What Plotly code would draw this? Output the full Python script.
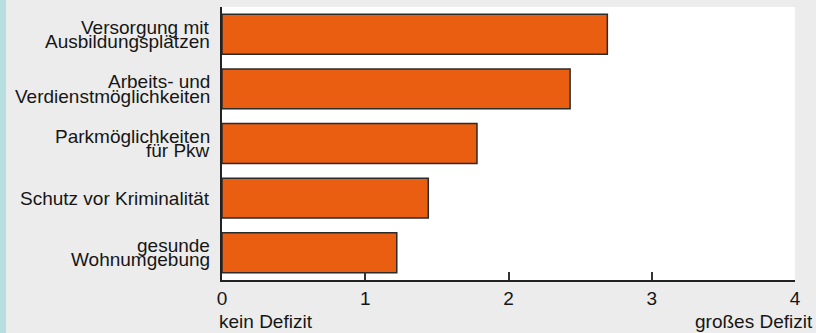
import plotly.graph_objects as go

# data
categories = [
    "Versorgung mit\nAusbildungsplätzen",
    "Arbeits- und\nVerdienstmöglichkeiten",
    "Parkmöglichkeiten\nfür Pkw",
    "Schutz vor Kriminalität",
    "gesunde\nWohnumgebung",
]
values = [2.69, 2.43, 1.78, 1.44, 1.22]
tick_vals = [0, 1, 2, 3, 4]
tick_text = ["0", "1", "2", "3", "4"]
scale_low = "kein Defizit"
scale_high = "großes Defizit"

FONT = "Liberation Sans, Arial, Helvetica, sans-serif"
TXT = "#161616"
W, H = 816, 333
ML, MR, MT, MB = 222, 21, 7, 53
plot_w = W - ML - MR
plot_h = H - MT - MB

fig = go.Figure()
fig.add_trace(
    go.Bar(
        x=values,
        y=categories,
        orientation="h",
        marker=dict(color="#e95e10", line=dict(color="#2b2b2b", width=1.5)),
        hoverinfo="x",
    )
)

# category labels, drawn line by line to get the tight leading
annotations = []
for cat in categories:
    lines = cat.split("\n")
    n = len(lines)
    for i, line in enumerate(lines):
        annotations.append(
            dict(
                x=0, xref="paper", y=cat, yref="y",
                xanchor="right", yanchor="middle",
                xshift=-10, yshift=(n - 1) * 7.25 - i * 14.5,
                text=line, showarrow=False,
                font=dict(family=FONT, size=19, color=TXT),
            )
        )

annotations.append(
    dict(x=0, xref="paper", y=0, yref="paper", xanchor="left", yanchor="top",
         xshift=-5, yshift=-29, text=scale_low, showarrow=False,
         font=dict(family=FONT, size=19, color=TXT))
)
annotations.append(
    dict(x=1, xref="paper", y=0, yref="paper", xanchor="right", yanchor="top",
         xshift=20, yshift=-29, text=scale_high, showarrow=False,
         font=dict(family=FONT, size=19, color=TXT))
)

fig.update_layout(
    width=W,
    height=H,
    margin=dict(l=ML, r=MR, t=MT, b=MB),
    paper_bgcolor="#ececec",
    plot_bgcolor="#ffffff",
    bargap=0.27,
    showlegend=False,
    annotations=annotations,
    shapes=[
        dict(type="rect", xref="paper", yref="paper",
             x0=-ML / plot_w, x1=-(ML - 6) / plot_w, y0=-MB / plot_h,
             y1=1 + MT / plot_h, fillcolor="#b7dfdf", line_width=0,
             layer="below"),
    ],
    xaxis=dict(
        range=[0, 4],
        tickvals=tick_vals,
        ticktext=tick_text,
        ticks="inside",
        ticklen=8,
        tickwidth=1.5,
        tickcolor="#333333",
        showline=True,
        linecolor="#222222",
        linewidth=2,
        showgrid=False,
        zeroline=False,
        tickfont=dict(family=FONT, size=19, color=TXT),
        fixedrange=True,
    ),
    yaxis=dict(
        categoryorder="array",
        categoryarray=categories,
        autorange="reversed",
        showticklabels=False,
        ticks="",
        showline=True,
        linecolor="#222222",
        linewidth=2,
        showgrid=False,
        zeroline=False,
        fixedrange=True,
    ),
)

fig.write_html(
    "out.html",
    config={"displayModeBar": False},
    post_script="document.body.style.margin='0';",
)
